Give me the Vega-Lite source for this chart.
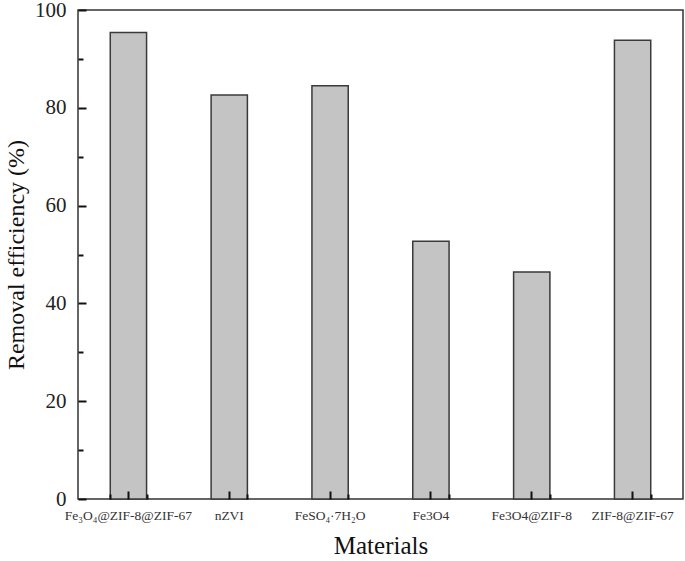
{
  "$schema": "https://vega.github.io/schema/vega-lite/v6.json",
  "width": 605,
  "height": 489,
  "autosize": {"type": "none"},
  "padding": {"left": 78, "top": 10, "right": 2, "bottom": 62},
  "background": "white",
  "config": {
    "view": {"stroke": "#333333", "strokeWidth": 1.5},
    "font": "Liberation Serif",
    "axis": {"grid": false, "domain": false, "tickColor": "#111111", "tickWidth": 2, "labelFont": "Liberation Serif", "titleFont": "Liberation Serif", "labelColor": "#222222", "titleColor": "#111111", "titleFontWeight": "normal"}
  },
  "data": {"values": [
    {"material": "Fe₃O₄@ZIF-8@ZIF-67", "value": 95.4},
    {"material": "nZVI", "value": 82.6},
    {"material": "FeSO₄·7H₂O", "value": 84.5},
    {"material": "Fe3O4", "value": 52.7},
    {"material": "Fe3O4@ZIF-8", "value": 46.4},
    {"material": "ZIF-8@ZIF-67", "value": 93.8}
  ]},
  "layer": [
    {
      "mark": {"type": "bar", "fill": "#c4c4c4", "stroke": "#3a3a3a", "strokeWidth": 1.5},
      "encoding": {
        "x": {"field": "material", "type": "nominal", "sort": null,
              "scale": {"paddingInner": 0.64, "paddingOuter": 0.32},
              "axis": {"orient": "bottom", "offset": -8, "tickSize": 8, "zindex": 1, "title": "Materials", "titleFontSize": 25, "titlePadding": 12, "labelFontSize": 13.5, "labelAngle": 0, "labelPadding": 9, "labelColor": "#333333"}},
        "y": {"field": "value", "type": "quantitative",
              "scale": {"domain": [0, 100], "nice": false},
              "axis": {"orient": "left", "offset": -8, "tickSize": 8, "zindex": 1, "title": "Removal efficiency (%)", "titleFontSize": 24, "titlePadding": 6, "values": [0, 20, 40, 60, 80, 100], "labelFontSize": 21, "labelPadding": 12}}
      }
    },
    {
      "mark": {"type": "bar", "opacity": 0},
      "encoding": {
        "x": {"field": "material", "type": "nominal", "sort": null,
              "axis": {"orient": "bottom", "offset": -5, "tickSize": 5, "zindex": 1, "title": null, "labels": false, "tickBand": "extent"}},
        "y": {"field": "value", "type": "quantitative",
              "axis": {"orient": "left", "offset": -5, "tickSize": 5, "zindex": 1, "title": null, "labels": false, "values": [10, 30, 50, 70, 90]}}
      }
    }
  ],
  "resolve": {"axis": {"x": "independent", "y": "independent"}}
}
